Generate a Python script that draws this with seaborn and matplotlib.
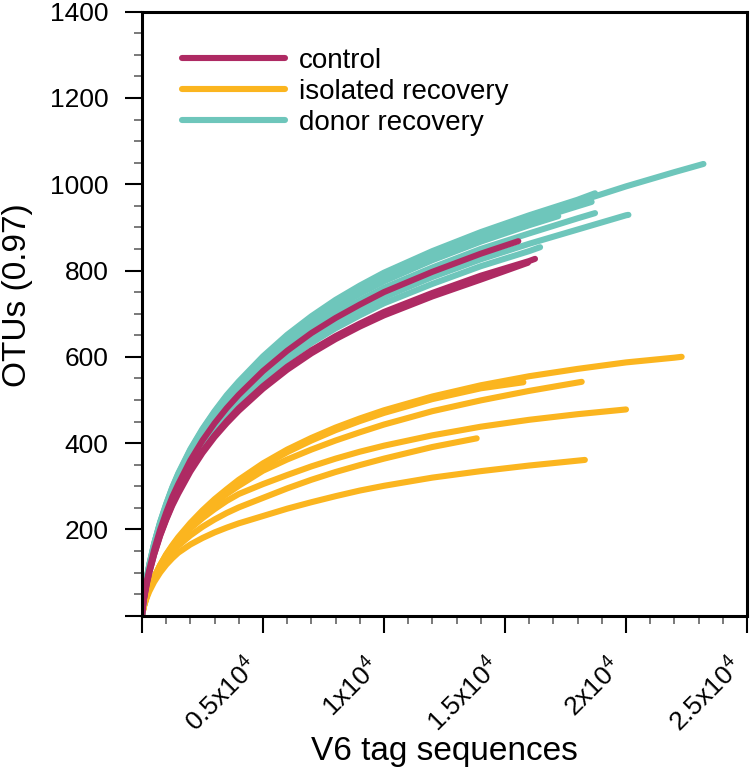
import pandas as pd
import matplotlib
matplotlib.use('Agg')
import matplotlib.pyplot as plt
import matplotlib.transforms as mtransforms
import seaborn as sns
from matplotlib.lines import Line2D
from matplotlib.ticker import MultipleLocator

sns.set_style('white')
plt.rcParams['font.family'] = ['Liberation Sans', 'DejaVu Sans']
plt.rcParams['mathtext.default'] = 'regular'
plt.rcParams['text.color'] = 'black'
plt.rcParams['axes.labelcolor'] = 'black'

# sampling depth grid (V6 tag sequences); each curve uses the points below its end
depth = [0, 50, 100, 200, 300, 500, 750, 1000, 1250, 1500, 2000, 2500, 3000,
         3500, 4000, 5000, 6000, 7000, 8000, 9000, 10000, 12000, 14000,
         16000, 18000, 20000, 22000]

# control (3 curves)
control_otus = [
    [0, 27, 47, 80, 106, 152, 199, 239, 275, 305, 360, 406, 446, 481, 512,
     567, 614, 655, 690, 721, 750, 797, 839],
    [0, 26, 45, 75, 100, 142, 187, 224, 258, 287, 338, 381, 418, 451, 481,
     532, 577, 615, 648, 677, 704, 748, 788, 822],
    [0, 26, 44, 74, 99, 141, 185, 222, 255, 283, 334, 377, 414, 446, 475,
     526, 570, 608, 641, 670, 696, 740, 779],
]
control_end_x = [15550, 16240, 15950]
control_end_y = [868, 827, 818]

# isolated recovery (6 curves)
isolated_otus = [
    [0, 15, 27, 46, 62, 88, 117, 142, 163, 182, 215, 244, 270, 293, 315,
     353, 385, 412, 436, 457, 476, 508, 534, 555, 572, 587, 598],
    [0, 15, 27, 46, 61, 86, 114, 139, 160, 178, 210, 239, 264, 288, 309,
     347, 379, 406, 430, 451, 470, 502, 527],
    [0, 15, 27, 47, 63, 89, 117, 141, 161, 179, 210, 237, 261, 282, 301,
     336, 362, 385, 406, 425, 443, 474, 499, 521],
    [0, 15, 28, 48, 64, 89, 116, 138, 157, 174, 202, 226, 247, 266, 282,
     305, 326, 346, 364, 380, 394, 418, 438, 454, 467],
    [0, 15, 27, 46, 61, 85, 110, 130, 147, 162, 186, 206, 223, 238, 251,
     273, 295, 315, 333, 349, 364, 391],
    [0, 14, 25, 42, 56, 78, 100, 118, 133, 146, 165, 180, 193, 204, 214,
     231, 248, 263, 277, 290, 301, 320, 335, 348],
]
isolated_end_x = [22300, 15760, 18170, 20000, 13830, 18300]
isolated_end_y = [600, 541, 542, 478, 411, 361]

# donor recovery (7 curves)
donor_otus = [
    [0, 29, 52, 88, 117, 166, 216, 258, 296, 328, 384, 431, 472, 508, 540,
     598, 648, 691, 728, 761, 791, 841, 885, 923, 959, 995, 1028],
    [0, 29, 52, 88, 118, 167, 217, 259, 297, 330, 386, 433, 474, 511, 543,
     601, 651, 694, 732, 765, 795, 845, 889, 928, 964],
    [0, 29, 51, 87, 116, 164, 214, 255, 293, 325, 380, 427, 467, 503, 535,
     592, 642, 684, 721, 753, 783, 833, 876, 914, 949],
    [0, 28, 51, 86, 115, 163, 212, 253, 290, 321, 376, 422, 463, 498, 529,
     586, 635, 677, 713, 746, 775, 824, 867, 905],
    [0, 28, 50, 85, 112, 159, 207, 248, 284, 315, 369, 414, 453, 488, 518,
     574, 622, 663, 699, 731, 760, 807, 850, 886, 921],
    [0, 27, 49, 82, 109, 155, 202, 241, 276, 306, 358, 402, 440, 474, 504,
     558, 605, 645, 679, 710, 738, 785, 826, 862, 895, 928],
    [0, 27, 48, 80, 107, 152, 198, 236, 271, 300, 351, 394, 431, 465, 494,
     547, 593, 632, 666, 696, 724, 769, 810, 845],
]
donor_end_x = [23200, 18720, 18580, 17200, 18720, 20100, 16450]
donor_end_y = [1047, 979, 959, 926, 933, 929, 854]

groups = ['control', 'isolated recovery', 'donor recovery']
colors = {'control': '#AE2A63', 'isolated recovery': '#FBB51F',
          'donor recovery': '#6EC6BB'}

rows = []
for grp, otus, ex, ey in [('control', control_otus, control_end_x, control_end_y),
                          ('isolated recovery', isolated_otus, isolated_end_x, isolated_end_y),
                          ('donor recovery', donor_otus, donor_end_x, donor_end_y)]:
    for i, ys in enumerate(otus):
        for x, y in zip(depth, ys):
            rows.append((grp, f'{grp}_{i}', x, y))
        rows.append((grp, f'{grp}_{i}', ex[i], ey[i]))
df = pd.DataFrame(rows, columns=['group', 'sample', 'seqs', 'otus'])

fig = plt.figure(figsize=(7.5, 7.76), dpi=100)
ax = fig.add_axes([0.1893, 0.2066, 0.8067, 0.7784])

for grp in ['isolated recovery', 'donor recovery', 'control']:
    sns.lineplot(data=df[df.group == grp], x='seqs', y='otus', units='sample',
                 estimator=None, color=colors[grp], linewidth=4.4,
                 solid_capstyle='round', solid_joinstyle='round', sort=False,
                 ax=ax, legend=False)

ax.set_xlim(0, 25000)
ax.set_ylim(0, 1400)

ax.set_yticks(range(0, 1401, 200))
ax.set_yticklabels([''] + [str(v) for v in range(200, 1401, 200)])
ax.yaxis.set_minor_locator(MultipleLocator(50))
ax.set_xticks(range(0, 25001, 5000))
ax.set_xticklabels(['', '$0.5x10^4$', '$1x10^4$', '$1.5x10^4$',
                    '$2x10^4$', '$2.5x10^4$'], rotation=45, ha='right', va='top')
ax.xaxis.set_minor_locator(MultipleLocator(1000))

ax.tick_params(axis='both', which='both', bottom=True, left=True,
               top=False, right=False, direction='out')
ax.tick_params(axis='both', which='major', length=12, width=1.5,
               color='black', labelcolor='black', labelsize=19)
ax.tick_params(axis='both', which='minor', length=6, width=1.1,
               color='#555555')
ax.tick_params(axis='y', which='major', pad=12)
ax.tick_params(axis='x', which='major', pad=11)

# nudge rotated x labels slightly down/right, keeping the last one inside the figure
shift = mtransforms.ScaledTranslation(0.015, -0.06, fig.dpi_scale_trans)
for lab in ax.get_xticklabels():
    lab.set_transform(lab.get_transform() + shift)

for s in ax.spines.values():
    s.set_visible(True)
    s.set_linewidth(2.2)
    s.set_color('black')

ax.set_xlabel('V6 tag sequences', fontsize=24)
ax.set_ylabel('OTUs (0.97)', fontsize=24)
ax.xaxis.set_label_coords(0.5, -0.20)
ax.yaxis.set_label_coords(-0.18, 0.53)

handles = [Line2D([0], [0], color=colors[g], lw=4.4, solid_capstyle='round')
           for g in groups]
ax.legend(handles, groups, loc='upper left', bbox_to_anchor=(0.066, 0.94),
          frameon=False, fontsize=20, handlelength=3.7, handletextpad=0.5,
          labelspacing=0.18, borderpad=0, borderaxespad=0)

fig.savefig('out.png', dpi=100)
